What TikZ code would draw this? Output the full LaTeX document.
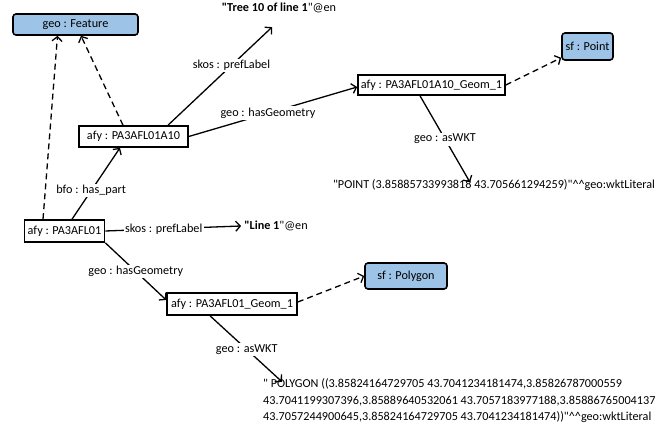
\documentclass[tikz,border=0pt]{standalone}
\usepackage{fontspec}
\setmainfont{Carlito}[Ligatures=TeXOff]
\usetikzlibrary{arrows.meta, positioning}
\definecolor{classblue}{RGB}{157,195,230}

\begin{document}
\begin{tikzpicture}[x=1pt, y=-1pt,
  every node/.style={font=\fontsize{12.2}{16.5}\selectfont},
  inst/.style={rectangle, draw=black, fill=white, line width=1.6pt, inner sep=1.5pt,
               minimum height=21pt},
  cls/.style={rectangle, rounded corners=3pt, draw=black, fill=classblue, line width=1.6pt,
              inner sep=2pt},
  lit/.style={inner sep=1pt},
  lbl/.style={fill=white, inner sep=1.5pt},
  arr/.style={-{Straight Barb[length=4.5pt, width=10pt]}, line width=1.3pt},
  dasharr/.style={arr, dash pattern=on 6pt off 4pt}
]
  \useasboundingbox (0,0) rectangle (669,427);
  % classes
  \node[cls, minimum width=125pt, minimum height=21pt] (feat) at (75.5,24.5) {geo : Feature};
  \node[cls, minimum width=51pt, minimum height=27pt]  (pt)   at (587.5,46.5) {sf : Point};
  \node[cls, minimum width=82pt, minimum height=26pt]  (poly) at (406,276) {sf : Polygon};
  % instances
  \node[inst, minimum width=109pt] (a10)  at (133.5,136.5) {afy : PA3AFL01A10};
  \node[inst, minimum width=147pt, minimum height=20pt] (a10g) at (431.5,85) {afy : PA3AFL01A10\_Geom\_1};
  \node[inst, minimum width=80pt, minimum height=22pt]  (p01)  at (64.5,231) {afy : PA3AFL01};
  \node[inst, minimum width=130pt, minimum height=22pt] (p01g) at (232,304) {afy : PA3AFL01\_Geom\_1};
  % literals
  \node[lit] (tree)  at (279,8) {\textbf{"Tree 10 of line 1}"@en};
  \node[lit] (line1) at (276,226) {\textbf{"Line 1}"@en};
  \node[lit] (wktpt) at (494,185) {"POINT (3.85885733993818 43.705661294259)"\textasciicircum\textasciicircum geo:wktLiteral};
  \node[lit, anchor=west, align=left] (wktpoly) at (262,401)
    {" POLYGON ((3.85824164729705 43.7041234181474,3.85826787000559\\
     43.7041199307396,3.85889640532061 43.7057183977188,3.85886765004137\\
     43.7057244900645,3.85824164729705 43.7041234181474))"\textasciicircum\textasciicircum geo:wktLiteral};

  \draw[dasharr] ([xshift=-21.5pt]p01.north) -- ([xshift=-18pt]feat.south);
  \draw[dasharr] ([xshift=-10.5pt]a10.north) -- ([xshift=5.5pt]feat.south);
  \draw[arr] ([xshift=7.5pt]p01.north) -- node[lbl, pos=0.4] {bfo : has\_part} ([xshift=-13.5pt]a10.south);
  \draw[arr] ([xshift=34.5pt]a10.north) -- node[lbl, pos=0.61] {skos : prefLabel} ([xshift=-7pt, yshift=-13pt]tree.south);
  \draw[arr] (a10.east) -- node[lbl, pos=0.47] {geo : hasGeometry} ([yshift=-2pt]a10g.west);
  \draw[dasharr] (a10g.east) -- ([yshift=3pt]pt.south west);
  \draw[arr] ([xshift=-11.5pt]a10g.south) -- node[lbl, pos=0.5] {geo : asWKT} ([xshift=-24pt, yshift=-4pt]wktpt.north);
  \draw[arr] (p01.east) -- node[lbl, pos=0.43] {skos : prefLabel} ([xshift=-2pt]line1.west);
  \draw[arr] (p01.south east) -- node[lbl, pos=0.5] {geo : hasGeometry} ([yshift=4pt]p01g.west);
  \draw[dasharr] ([yshift=2pt]p01g.east) -- (poly.west);
  \draw[arr] ([xshift=-22pt]p01g.south) -- node[lbl, pos=0.51] {geo : asWKT} ([xshift=20pt, yshift=-4pt]wktpoly.north west);
\end{tikzpicture}
\end{document}
